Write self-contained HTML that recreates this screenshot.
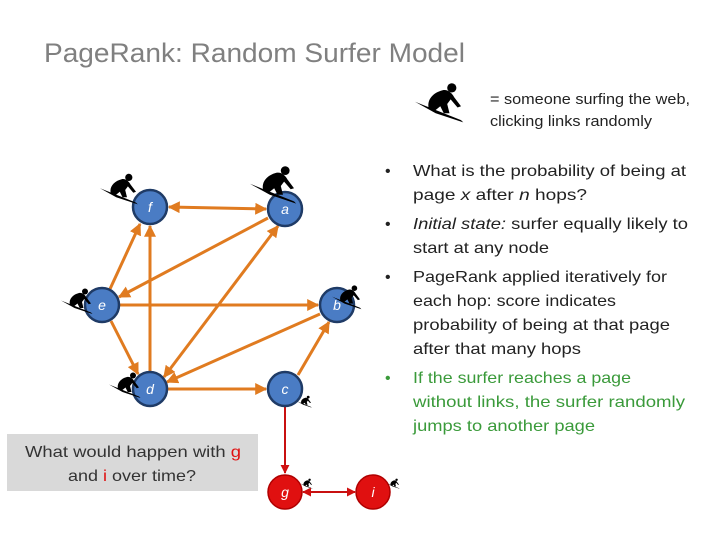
<!DOCTYPE html>
<html><head><meta charset="utf-8"><style>
html,body{margin:0;padding:0;background:#fff;}
svg{display:block;font-family:"Liberation Sans",sans-serif;}
</style></head><body>
<svg width="720" height="540" viewBox="0 0 720 540" xmlns="http://www.w3.org/2000/svg">
<defs>
<marker id="ao" viewBox="0 0 10 10" refX="9" refY="5" markerWidth="4" markerHeight="4" orient="auto-start-reverse"><path d="M0,0L10,5L0,10z" fill="#e07b20"/></marker>
<marker id="ar" viewBox="0 0 10 10" refX="9" refY="5" markerWidth="4.5" markerHeight="4.5" orient="auto-start-reverse"><path d="M0,0L10,5L0,10z" fill="#d01010"/></marker>
<g id="surf">
<path d="M-20,-2 L20,14 L22,16 L-2,8 Z" fill="#000"/>
<path d="M-8,4 C-10,-4 -4,-10 4,-12 C8,-13 12,-10 14,-6 L20,2 L17,3 L11,-4 L8,0 L10,8 L5,8 L2,2 L-3,6 Z" fill="#000"/>
<circle cx="12" cy="-14" r="4" fill="#000"/>
</g>
</defs>
<text x="44" y="62" font-size="27" fill="#808080" textLength="421" lengthAdjust="spacingAndGlyphs">PageRank: Random Surfer Model</text>

<use href="#surf" transform="translate(438,104) scale(1.15)"/>
<text x="490" y="104" font-size="15" fill="#222" textLength="200" lengthAdjust="spacingAndGlyphs">= someone surfing the web,</text>
<text x="490" y="126" font-size="15" fill="#222" textLength="162" lengthAdjust="spacingAndGlyphs">clicking links randomly</text>

<g stroke="#e07b20" stroke-width="3" fill="none">
<line x1="169" y1="207" x2="266" y2="209" marker-start="url(#ao)" marker-end="url(#ao)"/>
<line x1="110" y1="289" x2="140" y2="224" marker-end="url(#ao)"/>
<line x1="150" y1="372" x2="150" y2="226" marker-end="url(#ao)"/>
<line x1="268" y1="218" x2="119" y2="297" marker-end="url(#ao)"/>
<line x1="164" y1="377" x2="278" y2="226" marker-start="url(#ao)" marker-end="url(#ao)"/>
<line x1="120" y1="305" x2="318" y2="305" marker-end="url(#ao)"/>
<line x1="320" y1="314" x2="167" y2="382" marker-end="url(#ao)"/>
<line x1="111" y1="321" x2="138" y2="374" marker-end="url(#ao)"/>
<line x1="168" y1="389" x2="266" y2="389" marker-end="url(#ao)"/>
<line x1="298" y1="375" x2="329" y2="322" marker-end="url(#ao)"/>
</g>
<g stroke="#c81010" stroke-width="2" fill="none">
<line x1="285" y1="406" x2="285" y2="473" marker-end="url(#ar)"/>
<line x1="303" y1="492" x2="355" y2="492" marker-start="url(#ar)" marker-end="url(#ar)"/>
</g>
<g fill="#4a7cc4" stroke="#1f3b66" stroke-width="2.5">
<circle cx="150" cy="207" r="17"/><circle cx="285" cy="209" r="17"/>
<circle cx="102" cy="305" r="17"/><circle cx="337" cy="305" r="17"/>
<circle cx="150" cy="389" r="17"/><circle cx="285" cy="389" r="17"/>
</g>
<g fill="#e01010" stroke="#b00000" stroke-width="1.5">
<circle cx="285" cy="492" r="17"/><circle cx="373" cy="492" r="17"/>
</g>
<g fill="#fff" font-size="14" font-style="italic" text-anchor="middle">
<text x="150" y="212">f</text><text x="285" y="214">a</text><text x="102" y="310">e</text>
<text x="337" y="310">b</text><text x="150" y="394">d</text><text x="285" y="394">c</text>
<text x="285" y="497">g</text><text x="373" y="497">i</text>
</g>
<use href="#surf" transform="translate(118,190) scale(0.9)"/>
<use href="#surf" transform="translate(272,186) scale(1.1)"/>
<use href="#surf" transform="translate(76,302) scale(0.75)"/>
<use href="#surf" transform="translate(346,298) scale(0.7)"/>
<use href="#surf" transform="translate(124,386) scale(0.75)"/>
<use href="#surf" transform="translate(304,402) scale(0.35)"/>
<use href="#surf" transform="translate(306,484) scale(0.3)"/>
<use href="#surf" transform="translate(393,484) scale(0.3)"/>

<rect x="7" y="434" width="251" height="57" fill="#d9d9d9"/>
<g font-size="16" fill="#333">
<text x="25" y="457" textLength="216" lengthAdjust="spacingAndGlyphs">What would happen with <tspan fill="#e01010">g</tspan></text>
<text x="68" y="481" textLength="128" lengthAdjust="spacingAndGlyphs">and <tspan fill="#e01010">i</tspan> over time?</text>
</g>

<g font-size="16" fill="#222">
<text x="385" y="176">•</text>
<text x="413" y="176" textLength="273" lengthAdjust="spacingAndGlyphs">What is the probability of being at</text>
<text x="413" y="200" textLength="174" lengthAdjust="spacingAndGlyphs">page <tspan font-style="italic">x</tspan> after <tspan font-style="italic">n</tspan> hops?</text>
<text x="385" y="229">•</text>
<text x="413" y="229" textLength="275" lengthAdjust="spacingAndGlyphs"><tspan font-style="italic">Initial state:</tspan> surfer equally likely to</text>
<text x="413" y="253" textLength="136" lengthAdjust="spacingAndGlyphs">start at any node</text>
<text x="385" y="282">•</text>
<text x="413" y="282" textLength="254" lengthAdjust="spacingAndGlyphs">PageRank applied iteratively for</text>
<text x="413" y="306" textLength="203" lengthAdjust="spacingAndGlyphs">each hop: score indicates</text>
<text x="413" y="330" textLength="257" lengthAdjust="spacingAndGlyphs">probability of being at that page</text>
<text x="413" y="354" textLength="168" lengthAdjust="spacingAndGlyphs">after that many hops</text>
</g>
<g font-size="16" fill="#3a9a3a">
<text x="385" y="383">•</text>
<text x="413" y="383" textLength="218" lengthAdjust="spacingAndGlyphs">If the surfer reaches a page</text>
<text x="413" y="407" textLength="272" lengthAdjust="spacingAndGlyphs">without links, the surfer randomly</text>
<text x="413" y="431" textLength="182" lengthAdjust="spacingAndGlyphs">jumps to another page</text>
</g>
</svg>
</body></html>
